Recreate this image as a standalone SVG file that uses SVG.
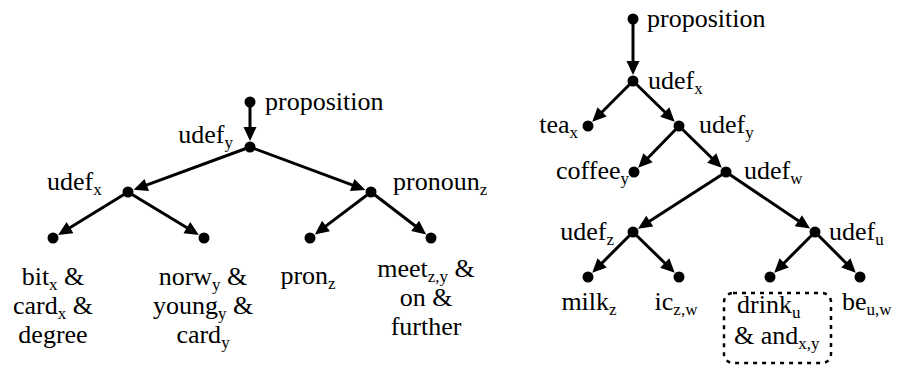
<svg xmlns="http://www.w3.org/2000/svg" width="901" height="367" viewBox="0 0 901 367">
<defs>
<marker id="ah" viewBox="-5 -7 16 14" markerWidth="16" markerHeight="14" refX="0" refY="0" markerUnits="userSpaceOnUse" orient="auto">
<path d="M-4,-6.5 L10,0 L-4,6.5 z" fill="#000"/>
</marker>
<style>
.t{font-family:'Liberation Serif','Times New Roman','Tinos','DejaVu Serif',serif;font-size:26px;fill:#000}
.s{font-size:17px}
.m{text-anchor:middle}
.e{text-anchor:end}
.c line{stroke:#000;stroke-width:3;marker-end:url(#ah)}
circle{fill:#000}
</style>
</defs>
<rect width="901" height="367" fill="#fff"/>
<g class="c" id="connectors">
<line x1="250" y1="102" x2="250" y2="131"/>
<line x1="250" y1="147" x2="143" y2="186.4"/>
<line x1="250" y1="147" x2="356" y2="186.4"/>
<line x1="128" y1="192" x2="66.6" y2="229.7"/>
<line x1="128" y1="192" x2="190.3" y2="229.7"/>
<line x1="371" y1="192" x2="322.8" y2="228.4"/>
<line x1="371" y1="192" x2="418.3" y2="228.3"/>
<line x1="633" y1="19" x2="633" y2="65"/>
<line x1="633" y1="81" x2="599.3" y2="114.7"/>
<line x1="633" y1="81" x2="667.6" y2="114.8"/>
<line x1="679" y1="126" x2="645.2" y2="160.7"/>
<line x1="679" y1="126" x2="714.6" y2="160.8"/>
<line x1="726" y1="172" x2="646.4" y2="223.3"/>
<line x1="726" y1="172" x2="801.7" y2="223"/>
<line x1="633" y1="232" x2="599.3" y2="265.7"/>
<line x1="633" y1="232" x2="667.6" y2="265.8"/>
<line x1="815" y1="232" x2="781.3" y2="265.7"/>
<line x1="815" y1="232" x2="848.7" y2="265.7"/>
</g>
<g class="t">
<g id="L-proposition"><circle cx="250" cy="102" r="5.5"/><text x="265" y="110">proposition</text></g>
<g id="L-udef_y"><circle cx="250" cy="147" r="5.5"/><text class="e" x="233" y="143">udef<tspan class="s" dy="5">y</tspan></text></g>
<g id="L-udef_x"><circle cx="128" cy="192" r="5.5"/><text x="47" y="190">udef<tspan class="s" dy="5">x</tspan></text></g>
<g id="L-pronoun_z"><circle cx="371" cy="192" r="5.5"/><text x="393" y="190">pronoun<tspan class="s" dy="5">z</tspan></text></g>
<g id="L-bit"><circle cx="53" cy="238" r="5.5"/>
<text class="m" x="53" y="285">bit<tspan class="s" dy="5">x</tspan><tspan dy="-5"> &amp;</tspan></text>
<text class="m" x="53" y="314">card<tspan class="s" dy="5">x</tspan><tspan dy="-5"> &amp;</tspan></text>
<text class="m" x="53" y="343">degree</text></g>
<g id="L-norw"><circle cx="204" cy="238" r="5.5"/>
<text class="m" x="203" y="285">norw<tspan class="s" dy="5">y</tspan><tspan dy="-5"> &amp;</tspan></text>
<text class="m" x="203" y="314">young<tspan class="s" dy="5">y</tspan><tspan dy="-5"> &amp;</tspan></text>
<text class="m" x="203" y="343">card<tspan class="s" dy="5">y</tspan></text></g>
<g id="L-pron"><circle cx="310" cy="238" r="5.5"/>
<text class="m" x="308" y="284">pron<tspan class="s" dy="5">z</tspan></text></g>
<g id="L-meet"><circle cx="431" cy="238" r="5.5"/>
<text class="m" x="426" y="277">meet<tspan class="s" dy="5">z,y</tspan><tspan dy="-5"> &amp;</tspan></text>
<text class="m" x="426" y="306">on &amp;</text>
<text class="m" x="426" y="335">further</text></g>
<g id="R-proposition"><circle cx="633" cy="19" r="5.5"/><text x="647" y="27">proposition</text></g>
<g id="R-udef_x"><circle cx="633" cy="81" r="5.5"/><text x="648" y="89">udef<tspan class="s" dy="5">x</tspan></text></g>
<g id="R-tea"><circle cx="588" cy="126" r="5.5"/><text class="e" x="578" y="133">tea<tspan class="s" dy="5">x</tspan></text></g>
<g id="R-udef_y"><circle cx="679" cy="126" r="5.5"/><text x="699" y="133">udef<tspan class="s" dy="5">y</tspan></text></g>
<g id="R-coffee"><circle cx="634" cy="172" r="5.5"/><text class="e" x="629" y="179">coffee<tspan class="s" dy="5">y</tspan></text></g>
<g id="R-udef_w"><circle cx="726" cy="172" r="5.5"/><text x="744" y="179">udef<tspan class="s" dy="5">w</tspan></text></g>
<g id="R-udef_z"><circle cx="633" cy="232" r="5.5"/><text class="e" x="614" y="240">udef<tspan class="s" dy="5">z</tspan></text></g>
<g id="R-udef_u"><circle cx="815" cy="232" r="5.5"/><text x="829" y="240">udef<tspan class="s" dy="5">u</tspan></text></g>
<g id="R-milk"><circle cx="588" cy="277" r="5.5"/><text class="m" x="589" y="310">milk<tspan class="s" dy="5">z</tspan></text></g>
<g id="R-ic"><circle cx="679" cy="277" r="5.5"/><text class="m" x="676" y="310">ic<tspan class="s" dy="5">z,w</tspan></text></g>
<g id="R-drink"><circle cx="770" cy="277" r="5.5"/>
<rect x="724" y="293" width="107" height="70" rx="9" fill="none" stroke="#000" stroke-width="2.5" stroke-dasharray="4 5"/>
<text x="737" y="313">drink<tspan class="s" dy="5">u</tspan></text>
<text x="734" y="344">&amp; and<tspan class="s" dy="5">x,y</tspan></text></g>
<g id="R-be"><circle cx="860" cy="277" r="5.5"/><text x="842" y="310">be<tspan class="s" dy="5">u,w</tspan></text></g>
</g>
</svg>
